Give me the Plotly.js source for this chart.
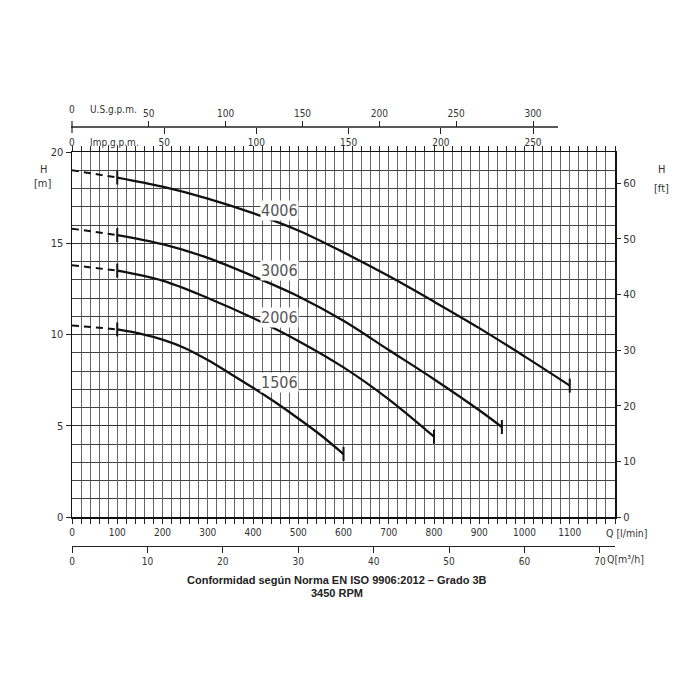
<!DOCTYPE html>
<html>
<head>
<meta charset="utf-8">
<script src="https://cdn.plot.ly/plotly-3.0.1.min.js"></script>
<style>html,body{margin:0;padding:0;background:#fff;}#chart{width:700px;height:700px;}</style>
</head>
<body>
<div id="chart"></div>
<script>
// ---- data (Q in l/min, H in m) ----
const curveNames = ['4006', '3006', '2006', '1506'];
const q4006 = [0, 100, 200, 300, 400, 500, 600, 700, 800, 900, 1000, 1100];
const h4006 = [19.0, 18.6, 18.1, 17.45, 16.65, 15.7, 14.5, 13.2, 11.8, 10.35, 8.8, 7.2];
const q3006 = [0, 100, 200, 300, 400, 500, 600, 700, 800, 900, 950];
const h3006 = [15.8, 15.45, 14.95, 14.2, 13.2, 12.1, 10.75, 9.15, 7.55, 5.85, 4.93];
const q2006 = [0, 100, 200, 300, 400, 500, 600, 700, 800];
const h2006 = [13.8, 13.5, 12.95, 12.0, 10.9, 9.65, 8.2, 6.45, 4.4];
const q1506 = [0, 100, 150, 200, 250, 300, 350, 400, 450, 500, 550, 600];
const h1506 = [10.5, 10.28, 10.05, 9.72, 9.25, 8.6, 7.85, 7.08, 6.27, 5.4, 4.48, 3.45];
const labelQ = [459, 459, 459, 459];
const labelH = [16.8, 13.5, 10.95, 7.38];

const qTicks = [0, 100, 200, 300, 400, 500, 600, 700, 800, 900, 1000, 1100];
const hTicks = [0, 5, 10, 15, 20];
const ftTicks = [0, 10, 20, 30, 40, 50, 60];
const m3hTicks = [0, 10, 20, 30, 40, 50, 60, 70];
const usTicks = [0, 50, 100, 150, 200, 250, 300];
const impTicks = [0, 50, 100, 150, 200, 250];
const caption1 = 'Conformidad según Norma EN ISO 9906:2012 – Grado 3B';
const caption2 = '3450 RPM';

const series = [[q4006, h4006], [q3006, h3006], [q2006, h2006], [q1506, h1506]];

const traces = [];
series.forEach(([q, h], i) => {
  traces.push({x: q.slice(0, 2), y: h.slice(0, 2), mode: 'lines', type: 'scatter',
    line: {color: '#111', width: 2, dash: '7px,5px'}, hoverinfo: 'skip', showlegend: false});
  traces.push({x: q.slice(1), y: h.slice(1), mode: 'lines', type: 'scatter',
    line: {color: '#111', width: 2.3, shape: 'spline', smoothing: 1}, name: curveNames[i], showlegend: false});
  traces.push({x: [q[1], q[q.length - 1]], y: [h[1], h[h.length - 1]], mode: 'markers', type: 'scatter',
    marker: {symbol: 'line-ns', size: 10, line: {color: '#111', width: 2}}, hoverinfo: 'skip', showlegend: false});
});
// invisible traces to activate the extra axes
traces.push({x: [0], y: [0], xaxis: 'x', yaxis: 'y2', mode: 'markers', marker: {opacity: 0}, showlegend: false, hoverinfo: 'skip'});
traces.push({x: [0], y: [0], xaxis: 'x2', yaxis: 'y', mode: 'markers', marker: {opacity: 0}, showlegend: false, hoverinfo: 'skip'});
traces.push({x: [0], y: [0], xaxis: 'x3', yaxis: 'y', mode: 'markers', marker: {opacity: 0}, showlegend: false, hoverinfo: 'skip'});
traces.push({x: [0], y: [0], xaxis: 'x4', yaxis: 'y', mode: 'markers', marker: {opacity: 0}, showlegend: false, hoverinfo: 'skip'});

const tickFont = {family: 'DejaVu Sans Condensed, DejaVu Sans', size: 10, color: '#333'};
const annots = curveNames.map((n, i) => ({
  x: labelQ[i], y: labelH[i], xref: 'x', yref: 'y', text: n, showarrow: false,
  xanchor: 'center', yanchor: 'middle',
  font: {family: 'DejaVu Sans Condensed, DejaVu Sans', size: 16, color: '#555'},
  bgcolor: '#fff', borderpad: 0
}));
const paperY = py => (546 - py) / 446;
const paperX = px => (px - 72) / 543;
const txt = (px, py, text, font, xa) => ({xref: 'paper', yref: 'paper', x: paperX(px), y: paperY(py), text: text,
  showarrow: false, xanchor: xa || 'center', yanchor: 'middle', font: font});
const labFont = {family: 'DejaVu Sans Condensed, DejaVu Sans', size: 11, color: '#333'};
const capFont = {family: 'Liberation Sans, Arial', size: 11, color: '#222', weight: 'bold'};
annots.push(
  txt(43, 169, 'H', labFont),
  txt(43, 183, '[m]', labFont),
  txt(662, 169, 'H', labFont),
  txt(662, 188, '[ft]', labFont),
  txt(604, 533, 'Q [l/min]', {family: 'DejaVu Sans Condensed', size: 10.5, color: '#333'}, 'left'),
  txt(605, 559, 'Q[m³/h]', {family: 'DejaVu Sans Condensed', size: 10.5, color: '#333'}, 'left'),
  txt(88, 110, 'U.S.g.p.m.', tickFont, 'left'),
  txt(88, 142, 'Imp.g.p.m.', tickFont, 'left'),
  txt(337, 580, caption1, capFont),
  txt(337, 593, caption2, capFont)
);

// the upper gallon scales share one line that stops short of the frame
const shapes = [
  {type: 'line', xref: 'paper', yref: 'paper', x0: paperX(71), x1: paperX(558), y0: paperY(127), y1: paperY(127),
   line: {color: '#222', width: 1.3}},
  {type: 'line', xref: 'paper', yref: 'paper', x0: paperX(72), x1: paperX(72), y0: paperY(121), y1: paperY(133),
   line: {color: '#222', width: 1.2}}
];

const usPx = 461 / 300;   // px per US gpm on the reference scale
const impPx = 461 / 250;  // px per Imp gpm

const layout = {
  width: 700, height: 700,
  margin: {l: 72, r: 85, t: 100, b: 154, pad: 0},
  paper_bgcolor: '#fff', plot_bgcolor: '#fff',
  showlegend: false,
  xaxis: {
    range: [0, 1200], domain: [0, 1], anchor: 'y',
    tickvals: qTicks, ticks: 'outside', ticklen: 5, tickcolor: '#222',
    showgrid: true, gridcolor: '#666', gridwidth: 1,
    minor: {dtick: 20, showgrid: true, gridcolor: '#666', gridwidth: 1, ticks: 'outside', ticklen: 4, tickcolor: '#222'},
    showline: true, linecolor: '#111', linewidth: 1.5, mirror: 'allticks',
    zeroline: false, tickfont: tickFont, fixedrange: true
  },
  yaxis: {
    range: [0, 20], domain: [paperY(517), paperY(152)], anchor: 'x',
    tickvals: hTicks, ticks: 'outside', ticklen: 5, tickcolor: '#222',
    showgrid: true, gridcolor: '#333', gridwidth: 1.2,
    minor: {dtick: 1, showgrid: true, gridcolor: '#444', gridwidth: 1},
    showline: true, linecolor: '#111', linewidth: 1.5, mirror: true,
    zeroline: false, tickfont: labFont, fixedrange: true
  },
  yaxis2: {
    range: [0, 20 * 3.28084], overlaying: 'y', side: 'right', anchor: 'x',
    tickvals: ftTicks, ticks: 'outside', ticklen: 5, tickcolor: '#222',
    showgrid: false, zeroline: false, showline: false,
    tickfont: labFont, fixedrange: true
  },
  xaxis2: {
    range: [0, 543 / usPx], anchor: 'free', position: paperY(127), side: 'top', overlaying: 'x',
    tickvals: usTicks.slice(1), ticks: 'outside', ticklen: 6, tickcolor: '#222',
    showgrid: false, zeroline: false, showline: false,
    tickfont: tickFont, fixedrange: true
  },
  xaxis4: {
    range: [0, 543 / impPx], anchor: 'free', position: paperY(127), side: 'bottom', overlaying: 'x',
    tickvals: impTicks.slice(1), ticks: 'outside', ticklen: 6, tickcolor: '#222',
    showgrid: false, zeroline: false, showline: false,
    tickfont: tickFont, fixedrange: true
  },
  xaxis3: {
    range: [0, 72], anchor: 'free', position: 0, side: 'bottom', overlaying: 'x',
    tickvals: m3hTicks, ticks: 'outside', ticklen: 6, tickcolor: '#222',
    showgrid: false, zeroline: false, showline: true, linecolor: '#222', linewidth: 1.3,
    tickfont: tickFont, fixedrange: true
  },
  shapes: shapes,
  annotations: annots.concat([
    txt(72, 110, String(usTicks[0]), tickFont),
    txt(72, 142, String(impTicks[0]), tickFont)
  ])
};

Plotly.newPlot('chart', traces, layout, {displayModeBar: false, staticPlot: true});
</script>
</body>
</html>
